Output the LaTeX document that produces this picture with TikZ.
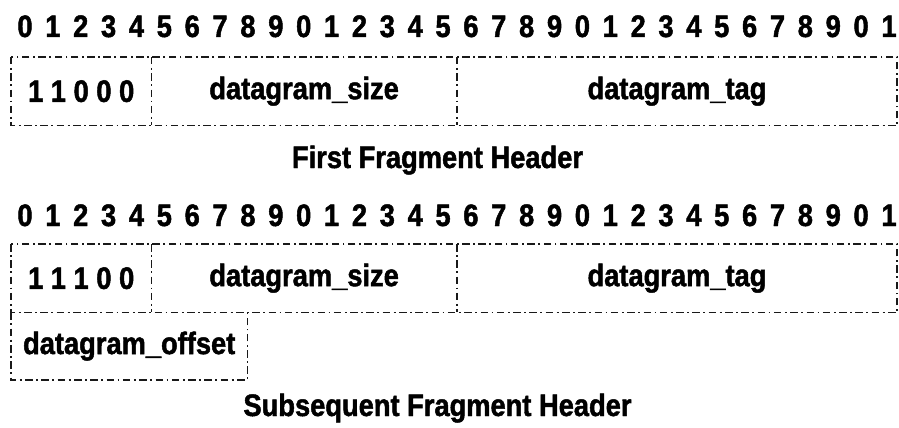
\documentclass[tikz,border=0pt]{standalone}
\usepackage{fontspec}
\setmainfont{Liberation Sans}[FakeStretch=0.88,BoldFeatures={FakeBold=1.5}]
\usetikzlibrary{positioning}

\begin{document}
\begin{tikzpicture}[x=1pt,y=-1pt,
    bitnum/.style={anchor=base,inner sep=0pt,font=\bfseries\fontsize{31}{34}\selectfont},
    field/.style={anchor=north west,inner sep=0pt,minimum height=68pt,font=\bfseries\fontsize{31}{34}\selectfont},
    caption/.style={anchor=base,inner sep=0pt,font=\bfseries\fontsize{31}{34}\selectfont},
    frame/.style={line width=1.5pt,black!90,dash pattern=on 7.5pt off 3.5pt on 1.8pt off 3.5pt}]
  \useasboundingbox (0,0) rectangle (899,428);

  % First fragment header
  \foreach \i in {0,...,31} {
    \pgfmathtruncatemacro{\d}{mod(\i,10)}
    \node[bitnum] (a\i) at (25+27.87*\i,37) {\d};
  }
  \node[field,minimum width=140pt] (disp1) at (11,57) {1 1 0 0 0};
  \node[field,minimum width=305pt,right=0pt of disp1] (size1) {datagram\_size};
  \node[field,minimum width=440pt,right=0pt of size1] (tag1) {datagram\_tag};
  \draw[frame] (disp1.north west) rectangle (tag1.south east);
  \draw[frame] (disp1.north east) -- (disp1.south east);
  \draw[frame] (size1.north east) -- (size1.south east);
  \node[caption] (cap1) at (437.5,168) {First Fragment Header};

  % Subsequent fragment header
  \foreach \i in {0,...,31} {
    \pgfmathtruncatemacro{\d}{mod(\i,10)}
    \node[bitnum] (b\i) at (25+27.87*\i,226) {\d};
  }
  \node[field,minimum width=140pt] (disp2) at (11,244) {1 1 1 0 0};
  \node[field,minimum width=305pt,right=0pt of disp2] (size2) {datagram\_size};
  \node[field,minimum width=440pt,right=0pt of size2] (tag2) {datagram\_tag};
  \node[field,minimum width=236pt,minimum height=67pt] (offset2) at (disp2.south west) {datagram\_offset};
  \draw[frame] (disp2.north west) rectangle (tag2.south east);
  \draw[frame] (disp2.north east) -- (disp2.south east);
  \draw[frame] (size2.north east) -- (size2.south east);
  \draw[frame] (offset2.north west) -- (offset2.south west) -- (offset2.south east) -- (offset2.north east);
  \node[caption] (cap2) at (437.5,416) {Subsequent Fragment Header};
\end{tikzpicture}
\end{document}
